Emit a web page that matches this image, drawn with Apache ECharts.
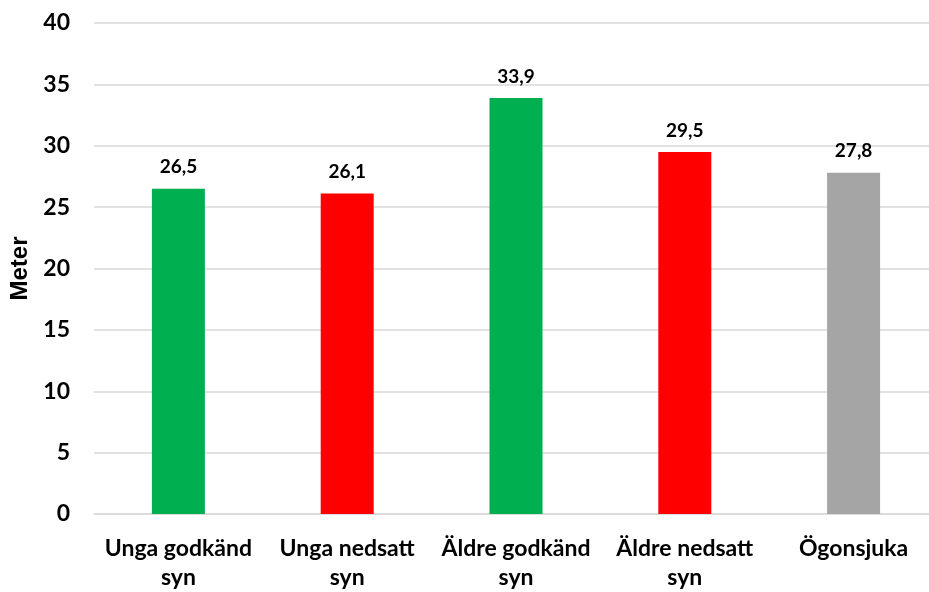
<!DOCTYPE html>
<html>
<head>
<meta charset="utf-8">
<script src="https://cdn.jsdelivr.net/npm/echarts@6/dist/echarts.min.js"></script>
<style>
  html, body { margin: 0; padding: 0; background: #ffffff; overflow: hidden; }
  #chart { width: 940px; height: 592px; }
</style>
</head>
<body>
<div id="chart"></div>
<script>
// Average distance (meters) per group
const categories = ['Unga godkänd\nsyn', 'Unga nedsatt\nsyn', 'Äldre godkänd\nsyn', 'Äldre nedsatt\nsyn', 'Ögonsjuka'];
const values = [26.5, 26.1, 33.9, 29.5, 27.8];
const barColors = ['#00B050', '#FF0000', '#00B050', '#FF0000', '#A5A5A5'];
const yTicks = [0, 5, 10, 15, 20, 25, 30, 35, 40];

const FONT = 'Lato, "Open Sans", sans-serif';

const chart = echarts.init(document.getElementById('chart'), null, { renderer: 'canvas' });
chart.setOption({
  backgroundColor: '#ffffff',
  animation: false,
  grid: { left: 90, width: 848, top: 23, bottom: 77, containLabel: false },
  xAxis: {
    type: 'category',
    data: categories,
    axisLine: { show: true, lineStyle: { color: '#D9D9D9', width: 1.5 } },
    axisTick: { show: false },
    axisLabel: {
      interval: 0,
      margin: 20,
      color: '#000000',
      fontFamily: FONT,
      fontWeight: 'bold',
      fontSize: 23,
      lineHeight: 29
    }
  },
  yAxis: {
    type: 'value',
    min: yTicks[0],
    max: yTicks[yTicks.length - 1],
    interval: 5,
    name: 'Meter',
    nameLocation: 'middle',
    nameGap: 62,
    nameRotate: 90,
    nameTextStyle: { color: '#000000', fontFamily: '"Liberation Sans", Arial, sans-serif', fontWeight: 'bold', fontSize: 24 },
    axisLine: { show: false },
    axisTick: { show: false },
    splitLine: { lineStyle: { color: '#D9D9D9', width: 1.5 } },
    axisLabel: {
      margin: 24,
      color: '#000000',
      fontFamily: FONT,
      fontWeight: 'bold',
      fontSize: 23,
      formatter: v => String(v)
    }
  },
  series: [{
    type: 'bar',
    data: values.map((v, i) => ({ value: v, itemStyle: { color: barColors[i] } })),
    barWidth: 53,
    label: {
      show: true,
      position: 'top',
      distance: 12,
      color: '#000000',
      fontFamily: FONT,
      fontWeight: 'bold',
      fontSize: 19,
      formatter: p => p.value.toFixed(1).replace('.', ',')
    }
  }]
});
</script>
</body>
</html>
